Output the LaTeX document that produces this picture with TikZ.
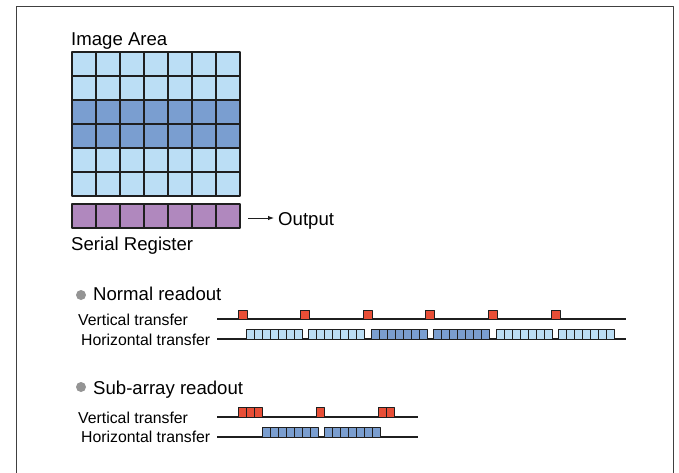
\documentclass[tikz,border=0pt]{standalone}
\usepackage{fontspec}
\setmainfont{Liberation Sans}
\usetikzlibrary{positioning}
\usetikzlibrary{calc}
\usetikzlibrary{arrows.meta}
\colorlet{border}{black!88}
\colorlet{framecolor}{black!75}
\definecolor{lightrow}{RGB}{187,222,245}
\definecolor{darkrow}{RGB}{122,158,208}
\definecolor{registerfill}{RGB}{176,136,190}
\definecolor{pulsefill}{RGB}{232,78,54}
\colorlet{dotfill}{black!42}
\newcommand\slotwidth{8}
\newcommand\slotheight{10}
\newcommand\drawslots[3]{
    \foreach \k in {0, ..., 6}
        \draw[slot, fill=#3] (#1 + \k * \slotwidth, #2) rectangle ++(\slotwidth, -\slotheight);
}

\begin{document}
\begin{tikzpicture}[x=1pt, y=-1pt, line join=round]
    \tikzset{
        frame/.style={framecolor, line width=1pt},
        cell/.style={border, line width=1.8pt},
        slot/.style={draw=border, line width=1pt},
        pulse/.style={draw=border, fill=pulsefill, line width=1pt},
        timeline/.style={border, line width=1.2pt},
        dot/.style={
            circle, fill=dotfill,
            minimum size=10pt, inner sep=0pt,
        },
        label text/.style={
            inner sep=0pt, anchor=base west,
            font=\fontsize{15.8}{18}\selectfont,
        },
        title text/.style={
            inner sep=0pt, anchor=base west,
            font=\fontsize{18.6}{21}\selectfont,
        },
    }
    \useasboundingbox (0, 0) rectangle (679, 472);

    % Frame
    \draw[frame] (16, 480) -- (16, 6) -- (673, 6) -- (673, 480);

    % Image area
    \newcommand\cellsize{24}
    \coordinate (image-tl) at (72, 52);
    \foreach \row/\shade in {0/lightrow, 1/lightrow, 2/darkrow, 3/darkrow, 4/lightrow, 5/lightrow}
        \foreach \col in {0, ..., 6}
            \draw[cell, fill=\shade]
                ($(image-tl)+(\col * \cellsize, \row * \cellsize)$)
                rectangle ++(\cellsize, \cellsize);

    % Serial register
    \coordinate (register-tl) at (72, 204);
    \foreach \col in {0, ..., 6}
        \draw[cell, fill=registerfill]
            ($(register-tl)+(\col * \cellsize, 0)$)
            rectangle ++(\cellsize, \cellsize);
    \coordinate (register-e) at ($(register-tl)+(7 * \cellsize + 8, 14)$);

    \node[title text] (image-label) at (71, 45) {Image Area};
    \node[title text] (register-label) at (71, 250) {Serial Register};
    \node[title text] (output) at (278, 225) {Output};
    \draw[border, line width=1pt, -{Latex[length=6pt, width=4.5pt]}, shorten >=4pt]
        (register-e) -- (register-e -| output.west);

    % Normal readout
    \node[dot] (normal-dot) at (81, 295) {};
    \node[title text] (normal-label) at (93, 300) {Normal readout};
    \node[label text] (normal-vt) at (78, 325) {Vertical transfer};
    \node[label text] (normal-ht) at (81, 345) {Horizontal transfer};

    \coordinate (normal-vt-start) at (217, 319);
    \coordinate (normal-ht-start) at (217, 339);
    \draw[timeline] (normal-vt-start) -- ++(409, 0);
    \draw[timeline] (normal-ht-start) -- ++(409, 0);

    \foreach \i in {0, ..., 5}
        \draw[pulse] (238 + \i * 62.6, 319) rectangle ++(9, -9);
    \foreach \i/\shade in {0/lightrow, 1/lightrow, 2/darkrow, 3/darkrow, 4/lightrow, 5/lightrow}
        {\drawslots{246 + \i * 62.5}{339}{\shade}}

    % Sub-array readout
    \node[dot] (sub-dot) at (81, 387) {};
    \node[title text] (sub-label) at (93, 394) {Sub-array readout};
    \node[label text] (sub-vt) at (78, 423) {Vertical transfer};
    \node[label text] (sub-ht) at (81, 442) {Horizontal transfer};

    \coordinate (sub-vt-start) at (217, 417);
    \coordinate (sub-ht-start) at (217, 437);
    \draw[timeline] (sub-vt-start) -- ++(201, 0);
    \draw[timeline] (sub-ht-start) -- ++(201, 0);

    \foreach \x in {238, 246, 254, 316, 378, 386}
        \draw[pulse] (\x, 417) rectangle ++(\slotwidth, -\slotheight);
    \drawslots{262}{437}{darkrow}
    \drawslots{324}{437}{darkrow}
\end{tikzpicture}
\end{document}
